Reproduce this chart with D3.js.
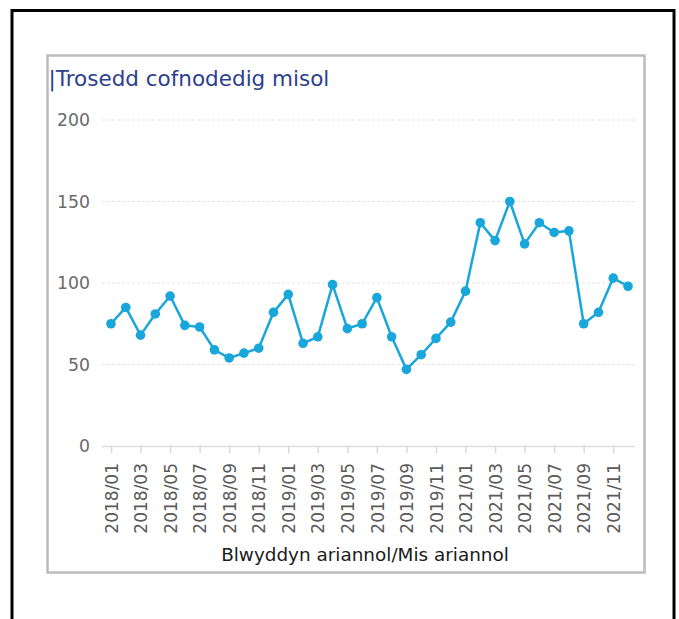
<!DOCTYPE html>
<html><head><meta charset="utf-8">
<script src="https://cdn.jsdelivr.net/npm/d3@7"></script>
<style>body{margin:0;background:#fff}svg{display:block}</style>
</head><body>
<script>
const months = ["01","02","03","04","05","06","07","08","09","10","11","12"];
const years = ["2018","2019","2021"];
const categories = years.flatMap(y => months.map(m => y + "/" + m));
const values = [75,85,68,81,92,74,73,59,54,57,60,82,
                93,63,67,99,72,75,91,67,47,56,66,76,
                95,137,126,150,124,137,131,132,75,82,103,98];
const yTicks = [0,50,100,150,200];
const tickLabels = categories.filter((d,i) => i % 2 === 0);
const titleText = "|Trosedd cofnodedig misol";
const xTitle = "Blwyddyn ariannol/Mis ariannol";

const W = 679, H = 619;
const svg = d3.select("body").append("svg").attr("width", W).attr("height", H);

// outer black frame
svg.append("rect").attr("x",12).attr("y",10.5).attr("width",662).attr("height",700)
  .attr("fill","none").attr("stroke","#000").attr("stroke-width",3);
// inner gray box
svg.append("rect").attr("x",47.5).attr("y",55.5).attr("width",597).attr("height",517)
  .attr("fill","#fff").attr("stroke","#bcbcbc").attr("stroke-width",2.5);

const x = d3.scalePoint().domain(categories).range([111, 628]);
const y = d3.scaleLinear().domain([0,200]).range([446,120]);
const font = "'DejaVu Sans', sans-serif";

// title
svg.append("text").attr("x",48.5).attr("y",86)
  .attr("font-family",font).attr("font-size",21.5).attr("fill","#2c4090").text(titleText);

// gridlines
svg.append("g").selectAll("line").data(yTicks.filter(d=>d>0)).join("line")
  .attr("x1",102).attr("x2",635).attr("y1",d=>y(d)).attr("y2",d=>y(d))
  .attr("stroke","#e4e4e4").attr("stroke-width",1).attr("stroke-dasharray","3,2");

// y labels
svg.append("g").selectAll("text").data(yTicks).join("text")
  .attr("x",90).attr("y",d=>y(d)).attr("dy","0.36em").attr("text-anchor","end")
  .attr("font-family",font).attr("font-size",17.3).attr("fill","#6a6a6a").text(d=>d);

// x axis
const xAxis = d3.axisBottom(x).tickValues(tickLabels).tickSize(7).tickPadding(4);
const gx = svg.append("g").attr("transform","translate(0,446)").call(xAxis);
gx.select(".domain").attr("d","M102,0.5H635").attr("stroke","#dddddd").attr("stroke-width",1.5);
gx.selectAll(".tick line").attr("stroke","#d8d8d8").attr("stroke-width",1.5);
gx.selectAll(".tick text")
  .attr("font-family",font).attr("font-size",17).attr("fill","#5a5a5a")
  .attr("transform","rotate(-90)").attr("text-anchor","end")
  .attr("x",-17).attr("y",0).attr("dy","0.36em");

svg.append("text").attr("x",365).attr("y",561).attr("text-anchor","middle")
  .attr("font-family",font).attr("font-size",18.4).attr("fill","#1a1a1a").text(xTitle);

// line
const col = "#19a6db";
svg.append("path").datum(values)
  .attr("d", d3.line().x((d,i)=>x(categories[i])).y(d=>y(d)))
  .attr("fill","none").attr("stroke",col).attr("stroke-width",2.5).attr("stroke-linejoin","round");
svg.append("g").selectAll("circle").data(values).join("circle")
  .attr("cx",(d,i)=>x(categories[i])).attr("cy",d=>y(d)).attr("r",4.8).attr("fill",col);
</script>
</body></html>
